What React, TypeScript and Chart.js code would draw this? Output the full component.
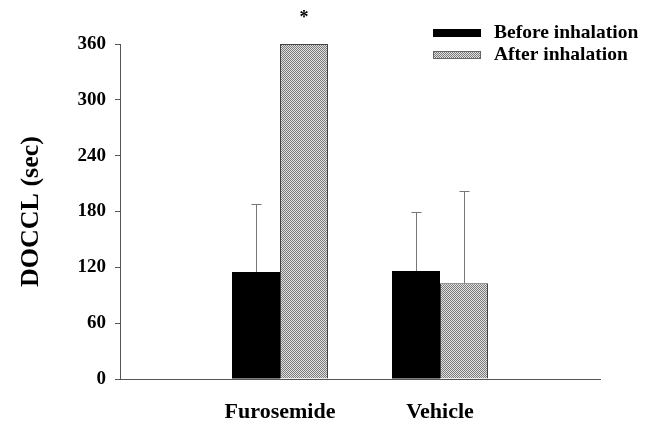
import React, { useEffect, useRef } from "react";
import { Chart, registerables } from "chart.js";

Chart.register(...registerables);

const categories = ["", "Furosemide", "Vehicle", ""];
const beforeValues = [null, 115, 116, null];
const afterValues = [null, 360, 103, null];
const beforeErr = [null, 73, 64, null];
const afterErr = [null, 0, 99, null];
const yTicks = [0, 60, 120, 180, 240, 300, 360];
const seriesNames = ["Before inhalation", "After inhalation"];

const FONT = "'Liberation Serif', 'Times New Roman', serif";

function makePattern(): CanvasPattern | string {
  const c = document.createElement("canvas");
  c.width = 2;
  c.height = 2;
  const g = c.getContext("2d");
  if (!g) return "#aaa";
  g.fillStyle = "#e2e2e2";
  g.fillRect(0, 0, 2, 2);
  g.fillStyle = "#7a7a7a";
  g.fillRect(0, 0, 1, 1);
  g.fillRect(1, 1, 1, 1);
  const p = g.createPattern(c, "repeat");
  return p || "#aaa";
}

export default function App() {
  const ref = useRef<HTMLCanvasElement | null>(null);

  useEffect(() => {
    document.body.style.margin = "0";
    const canvas = ref.current;
    if (!canvas) return;
    const pattern = makePattern();

    const errorBars = {
      id: "errorBars",
      afterDatasetsDraw(chart: any) {
        const ctx = chart.ctx;
        const y = chart.scales.y;
        const errs = [beforeErr, afterErr];
        ctx.save();
        ctx.strokeStyle = "#777";
        ctx.lineWidth = 1;
        errs.forEach((arr, di) => {
          const meta = chart.getDatasetMeta(di);
          const vals = chart.data.datasets[di].data as (number | null)[];
          arr.forEach((e, i) => {
            const v = vals[i];
            if (e == null || v == null || !e) return;
            const bar = meta.data[i];
            const x = Math.round(bar.x) + 0.5;
            const y0 = y.getPixelForValue(v);
            const y1 = Math.round(y.getPixelForValue(v + e)) + 0.5;
            ctx.beginPath();
            ctx.moveTo(x, y0);
            ctx.lineTo(x, y1);
            ctx.moveTo(x - 5, y1);
            ctx.lineTo(x + 5, y1);
            ctx.stroke();
          });
        });
        // significance marker
        const meta1 = chart.getDatasetMeta(1);
        const b = meta1.data[1];
        ctx.fillStyle = "#000";
        ctx.font = `bold 18px ${FONT}`;
        ctx.textAlign = "center";
        ctx.textBaseline = "middle";
        ctx.fillText("*", b.x, y.getPixelForValue(360) - 26);

        // legend
        const ca = chart.chartArea;
        const sx = ca.right - 167;
        const fills = ["#000", pattern];
        ctx.font = `bold 19.5px ${FONT}`;
        ctx.textAlign = "left";
        seriesNames.forEach((name, i) => {
          const cy = ca.top - 11 + i * 22;
          ctx.fillStyle = fills[i] as any;
          ctx.fillRect(sx, cy - 4, 48, 8);
          if (i === 1) {
            ctx.strokeStyle = "#666";
            ctx.strokeRect(sx + 0.5, cy - 3.5, 47, 7);
          }
          ctx.fillStyle = "#000";
          ctx.fillText(name, sx + 61, cy);
        });
        ctx.restore();
      },
    };

    const chart = new Chart(canvas, {
      type: "bar",
      data: {
        labels: categories,
        datasets: [
          {
            label: seriesNames[0],
            data: beforeValues,
            backgroundColor: "#000",
            borderWidth: 0,
            categoryPercentage: 0.6,
            barPercentage: 1,
          },
          {
            label: seriesNames[1],
            data: afterValues,
            backgroundColor: pattern as any,
            borderColor: "#444",
            borderWidth: 1,
            categoryPercentage: 0.6,
            barPercentage: 1,
          },
        ],
      },
      options: {
        animation: false,
        responsive: true,
        maintainAspectRatio: false,
        layout: { padding: { top: 44, right: 51, left: 0, bottom: 0 } },
        plugins: {
          legend: { display: false },
          tooltip: { enabled: false },
        },
        scales: {
          x: {
            offset: false,
            grid: { display: false, drawTicks: false },
            border: { display: true, color: "#555", width: 1 },
            ticks: {
              color: "#000",
              padding: 20,
              font: { family: FONT, size: 22, weight: "bold" },
              maxRotation: 0,
              autoSkip: false,
            },
            afterFit(scale: any) {
              scale.height = 48;
            },
          },
          y: {
            min: 0,
            max: 360,
            afterBuildTicks(scale: any) {
              scale.ticks = yTicks.map((v) => ({ value: v }));
            },
            grid: {
              display: true,
              drawOnChartArea: false,
              drawTicks: true,
              tickLength: 5,
              color: "#555",
            },
            border: { display: true, color: "#555", width: 1 },
            ticks: {
              color: "#000",
              padding: 9,
              font: { family: FONT, size: 19, weight: "bold" },
            },
            title: {
              display: true,
              text: "DOCCL (sec)",
              color: "#000",
              font: { family: FONT, size: 26, weight: "bold" },
              padding: { top: 16, bottom: 0 },
            },
            afterFit(scale: any) {
              scale.width = 120;
            },
          },
        },
      },
      plugins: [errorBars],
    });
    return () => chart.destroy();
  }, []);

  return (
    <div style={{ position: "relative", width: 651, height: 427 }}>
      <canvas ref={ref} />
    </div>
  );
}
